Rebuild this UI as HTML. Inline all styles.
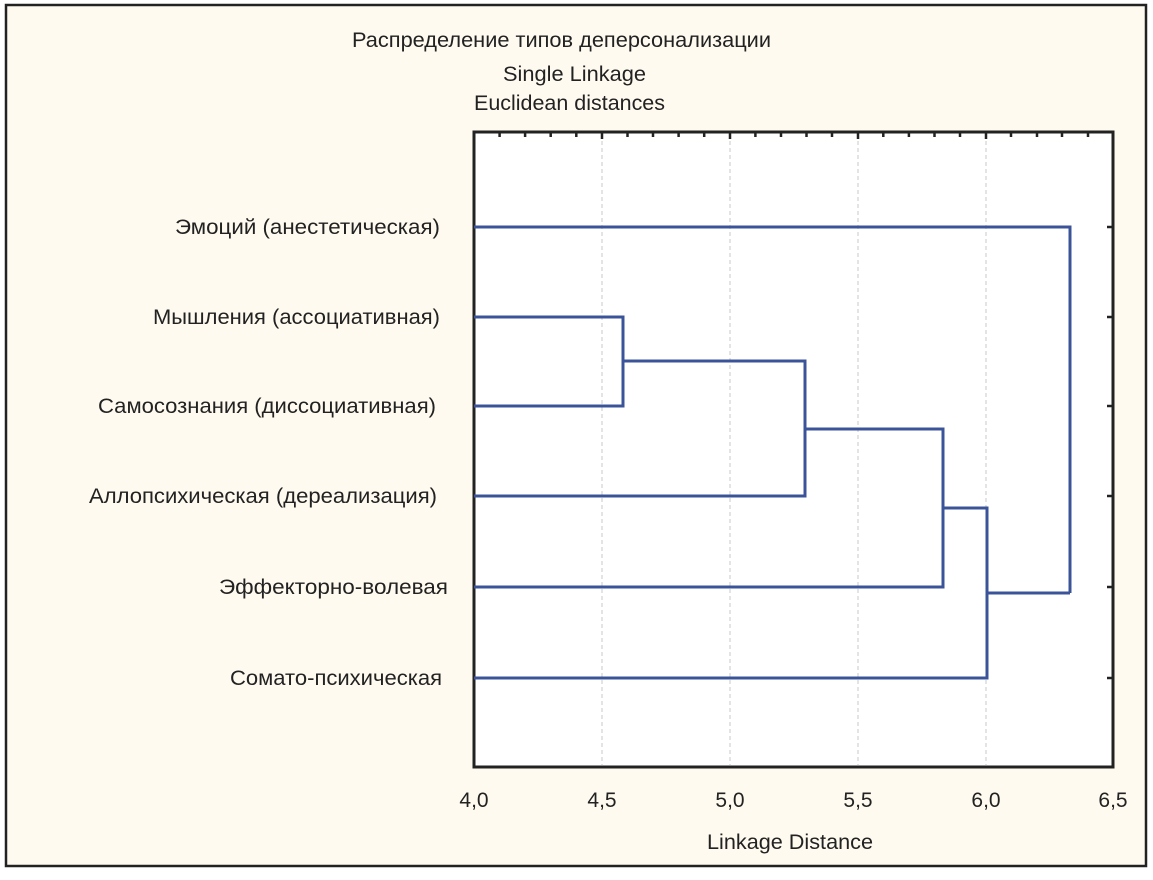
<!DOCTYPE html>
<html><head><meta charset="utf-8"><style>html,body{margin:0;padding:0;background:#fff}</style></head>
<body>
<svg width="1153" height="875" xmlns="http://www.w3.org/2000/svg" font-family="Liberation Sans, Arial, sans-serif" fill="#222">
<rect x="6" y="5" width="1140" height="861" fill="#fefaef" stroke="#222" stroke-width="2.5"/>
<rect x="474" y="132" width="639" height="635" fill="#fff" stroke="#222" stroke-width="3"/>
<g stroke="#c8c8c8" stroke-width="1" stroke-dasharray="4,3">
<line x1="602" y1="134" x2="602" y2="765"/><line x1="730" y1="134" x2="730" y2="765"/>
<line x1="858" y1="134" x2="858" y2="765"/><line x1="986" y1="134" x2="986" y2="765"/>
</g>
<g stroke="#222" stroke-width="2.5">
<line x1="499.6" y1="133" x2="499.6" y2="137"/><line x1="525.1" y1="133" x2="525.1" y2="137"/><line x1="550.7" y1="133" x2="550.7" y2="137"/><line x1="576.3" y1="133" x2="576.3" y2="137"/><line x1="602" y1="133" x2="602" y2="139"/>
<line x1="627.5" y1="133" x2="627.5" y2="137"/><line x1="653" y1="133" x2="653" y2="137"/><line x1="678.6" y1="133" x2="678.6" y2="137"/><line x1="704.2" y1="133" x2="704.2" y2="137"/><line x1="730" y1="133" x2="730" y2="139"/>
<line x1="755.4" y1="133" x2="755.4" y2="137"/><line x1="781" y1="133" x2="781" y2="137"/><line x1="806.5" y1="133" x2="806.5" y2="137"/><line x1="832" y1="133" x2="832" y2="137"/><line x1="858" y1="133" x2="858" y2="139"/>
<line x1="883.3" y1="133" x2="883.3" y2="137"/><line x1="908.9" y1="133" x2="908.9" y2="137"/><line x1="934.5" y1="133" x2="934.5" y2="137"/><line x1="960" y1="133" x2="960" y2="137"/><line x1="986" y1="133" x2="986" y2="139"/>
<line x1="1011" y1="133" x2="1011" y2="137"/><line x1="1037" y1="133" x2="1037" y2="137"/><line x1="1062" y1="133" x2="1062" y2="137"/><line x1="1088" y1="133" x2="1088" y2="137"/>
<line x1="1107" y1="227" x2="1112" y2="227"/><line x1="1107" y1="317" x2="1112" y2="317"/><line x1="1107" y1="406" x2="1112" y2="406"/><line x1="1107" y1="496" x2="1112" y2="496"/><line x1="1107" y1="587" x2="1112" y2="587"/><line x1="1107" y1="678" x2="1112" y2="678"/>
</g>
<g stroke="#3b5499" stroke-width="3" fill="none">
<polyline points="474,227 1070,227 1070,593"/>
<polyline points="474,317 623,317 623,406 474,406"/>
<polyline points="623,361 805,361 805,496 474,496"/>
<polyline points="805,429 943,429 943,587 474,587"/>
<polyline points="943,508 987,508 987,678 474,678"/>
<polyline points="987,593 1070,593"/>
</g>
<g font-size="21" lengthAdjust="spacingAndGlyphs">
<text x="352" y="47" textLength="419" lengthAdjust="spacingAndGlyphs">Распределение типов деперсонализации</text>
<text x="503" y="81" textLength="143" lengthAdjust="spacingAndGlyphs">Single Linkage</text>
<text x="474" y="110" textLength="191" lengthAdjust="spacingAndGlyphs">Euclidean distances</text>
<text x="707" y="849" textLength="166" lengthAdjust="spacingAndGlyphs">Linkage Distance</text>
<text x="175" y="234" textLength="265" lengthAdjust="spacingAndGlyphs">Эмоций (анестетическая)</text>
<text x="153" y="324" textLength="287" lengthAdjust="spacingAndGlyphs">Мышления (ассоциативная)</text>
<text x="98" y="413" textLength="338" lengthAdjust="spacingAndGlyphs">Самосознания (диссоциативная)</text>
<text x="89" y="503" textLength="348" lengthAdjust="spacingAndGlyphs">Аллопсихическая (дереализация)</text>
<text x="219" y="594" textLength="229" lengthAdjust="spacingAndGlyphs">Эффекторно-волевая</text>
<text x="230" y="685" textLength="212" lengthAdjust="spacingAndGlyphs">Сомато-психическая</text>
</g>
<g font-size="21" text-anchor="middle">
<text x="474" y="807">4,0</text><text x="602" y="807">4,5</text><text x="730" y="807">5,0</text>
<text x="858" y="807">5,5</text><text x="986" y="807">6,0</text><text x="1113" y="807">6,5</text>
</g>
</svg>
</body></html>
